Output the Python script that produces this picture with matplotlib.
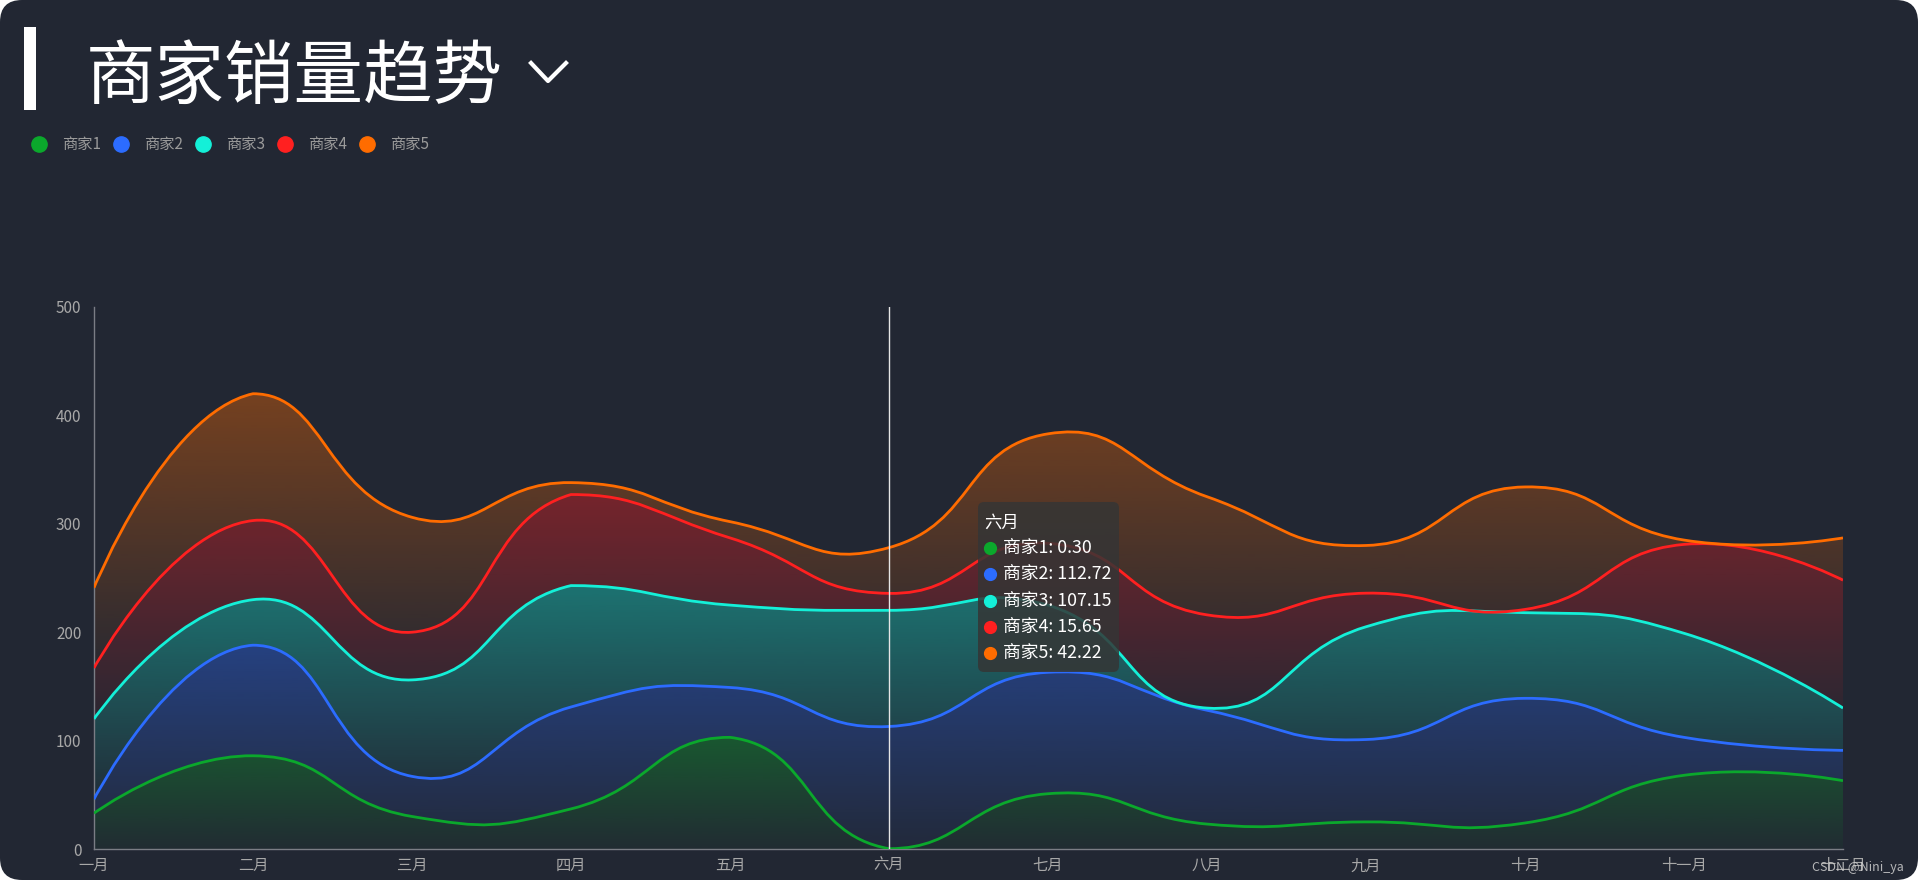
import numpy as np
import matplotlib
matplotlib.use('Agg')
import matplotlib.pyplot as plt
from matplotlib.path import Path
from matplotlib.patches import PathPatch, FancyBboxPatch, Rectangle
from matplotlib.lines import Line2D
from matplotlib.colors import to_rgb
from matplotlib.transforms import IdentityTransform

plt.rcParams['font.family'] = ['Noto Sans CJK SC', 'DejaVu Sans']

months = ['一月', '二月', '三月', '四月', '五月', '六月',
          '七月', '八月', '九月', '十月', '十一月', '十二月']
names = ['商家1', '商家2', '商家3', '商家4', '商家5']
colors = ['#0ba82c', '#2c6cff', '#14f0d8', '#ff2020', '#ff6c00']

# monthly sales per merchant (stacked)
shop1 = [33, 86, 30, 37, 103, 0.30, 51, 23, 25, 24, 68, 63]
shop2 = [13, 102, 37, 94, 46, 112.72, 112, 105, 76, 115, 35, 28]
shop3 = [74, 42, 89, 112, 76, 107.15, 62, 2, 104, 79, 96, 39]
shop4 = [47, 73, 44, 84, 62, 15.65, 57, 86, 31, 3, 82, 118]
shop5 = [74, 117, 106, 11, 15, 42.22, 101, 109, 44, 113, 4, 39]
series = [shop1, shop2, shop3, shop4, shop5]
hover = 5  # tooltip month index

W, H = 1920, 885
L, R, T, B = 94, 1843, 307, 849
SX = (R - L) / 11.0
SY = (B - T) / 500.0

BG = '#222733'


def smooth_path(xs, ys, k=0.5):
    # echarts-like smooth curve, control points computed in pixel space
    pts = np.column_stack([np.asarray(xs, float) * SX, np.asarray(ys, float) * SY])
    lo, hi = pts.min(0), pts.max(0)
    verts = [pts[0]]
    codes = [Path.MOVETO]
    cp0 = pts[0].copy()
    n = len(pts)
    for i in range(1, n):
        p = pts[i]
        if i + 1 < n:
            prev, nxt = pts[i - 1], pts[i + 1]
            v = nxt - prev
            d0 = np.hypot(*(p - prev))
            d1 = np.hypot(*(nxt - p))
            r = d1 / (d0 + d1)
            cp1 = p - v * k * (1 - r)
        else:
            cp1 = p.copy()
        verts += [np.clip(cp0, lo, hi), np.clip(cp1, lo, hi), p]
        codes += [Path.CURVE4] * 3
        if i + 1 < n:
            cp0 = p + v * k * r
    return np.array(verts) / [SX, SY], codes


fig = plt.figure(figsize=(W / 100, H / 100), dpi=100, facecolor='white')
fig.add_artist(FancyBboxPatch((0, 5), 1918, 880, boxstyle='round,pad=0,rounding_size=22',
                              facecolor=BG, edgecolor='none', zorder=-5,
                              transform=IdentityTransform()))

ax = fig.add_axes([L / W, (H - B) / H, (R - L) / W, (B - T) / H])
ax.set_facecolor('none')

x = np.arange(len(months))
stack = np.cumsum(np.array(series), axis=0)
lower = np.zeros(len(months))
for i, (name, col) in enumerate(zip(names, colors)):
    upper = stack[i]
    uv, uc = smooth_path(x, upper)
    lv, lc = smooth_path(x, lower)
    verts = np.vstack([uv, lv[::-1], lv[-1:]])
    codes = uc + [Path.LINETO] + [Path.CURVE4] * (len(lv) - 1) + [Path.CLOSEPOLY]
    area = PathPatch(Path(verts, codes), facecolor='none', edgecolor='none')
    ax.add_patch(area)
    ytop = Path(uv, uc).get_extents().y1
    ybot = Path(lv, lc).get_extents().y0
    grad = np.zeros((256, 1, 4))
    grad[:, 0, :3] = to_rgb(col)
    grad[:, 0, 3] = np.linspace(0.38, 0.04, 256)
    im = ax.imshow(grad, extent=[0, 11, ybot, ytop], aspect='auto', origin='upper',
                   zorder=1, interpolation='bilinear')
    im.set_clip_path(area)
    ax.add_patch(PathPatch(Path(uv, uc), facecolor='none', edgecolor=col, lw=2, zorder=3))
    lower = upper

ax.axvline(hover, color='#e6e6e6', lw=1, zorder=4)

ax.set_xlim(0, 11)
ax.set_ylim(0, 500)
ax.set_xticks(x)
ax.set_xticklabels(months)
ax.set_yticks(range(0, 501, 100))
for s in ['top', 'right']:
    ax.spines[s].set_visible(False)
for s in ['left', 'bottom']:
    ax.spines[s].set_color('#7a7d85')
    ax.spines[s].set_linewidth(1)
ax.tick_params(axis='both', length=0, colors='#a8a8a8', labelsize=11)
ax.tick_params(axis='y', pad=9)
ax.tick_params(axis='x', pad=6)

# title block
fig.add_artist(Rectangle((24, H - 110), 12, 83, facecolor='white', edgecolor='none',
                         transform=IdentityTransform()))
fig.text(86 / W, 1 - 78 / H, '商家销量趋势', fontsize=50, color='white', va='center', ha='left')
fig.add_artist(Line2D([531 / W, 548 / W, 566 / W], [1 - 63 / H, 1 - 81 / H, 1 - 63 / H],
                      color='white', lw=3, transform=fig.transFigure))

# legend
for i, (name, col) in enumerate(zip(names, colors)):
    cx = 39 + i * 82
    fig.add_artist(Line2D([cx / W], [1 - 144 / H], marker='o', markersize=11, color=col,
                          lw=0, transform=fig.transFigure))
    fig.text((cx + 23) / W, 1 - 144 / H, name, fontsize=11, color='#9a9a9a', va='center')

# tooltip
fig.add_artist(FancyBboxPatch((978, H - 672), 141, 170, boxstyle='round,pad=0,rounding_size=6',
                              facecolor='#353535', alpha=0.85, edgecolor='none', zorder=5,
                              transform=IdentityTransform()))
fig.text(984 / W, 1 - 523 / H, months[hover], fontsize=12.5, color='white', va='center',
         zorder=6)
for i, (name, col) in enumerate(zip(names, colors)):
    yy = 548 + i * 26.3
    fig.add_artist(Line2D([990 / W], [1 - yy / H], marker='o', markersize=8.5, color=col,
                          lw=0, zorder=6, transform=fig.transFigure))
    fig.text(1003 / W, 1 - yy / H, f'{name}: {series[i][hover]:.2f}', fontsize=12.8,
             color='white', va='center', zorder=6)

fig.text(1904 / W, 1 - 867 / H, 'CSDN @Nini_ya', fontsize=9, color='#d0d0d0',
         ha='right', va='center', alpha=0.85)

fig.savefig('out.png', dpi=100, facecolor=fig.get_facecolor())
